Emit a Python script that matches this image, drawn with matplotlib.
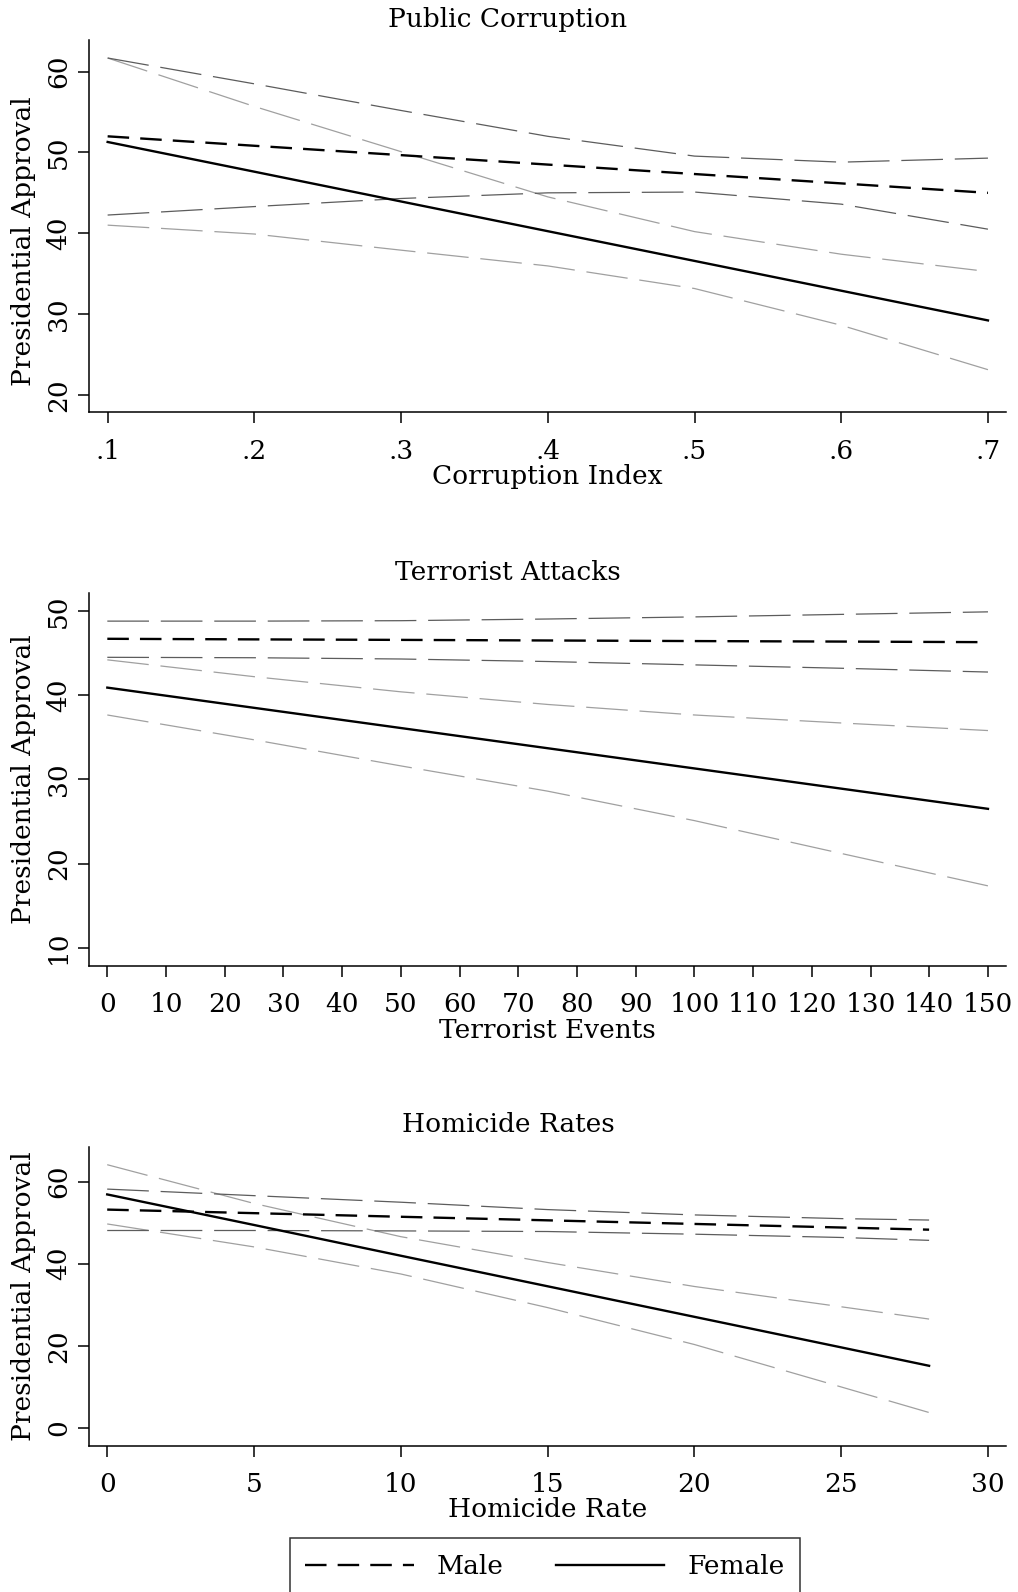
import matplotlib
matplotlib.use("Agg")
import matplotlib.pyplot as plt
from matplotlib.lines import Line2D

# ---- data ----
corr_x = [0.1, 0.2, 0.3, 0.4, 0.5, 0.6, 0.7]
corr_male = [52.0, 50.83, 49.67, 48.5, 47.33, 46.17, 45.0]
corr_male_hi = [61.7, 58.5, 55.2, 52.0, 49.55, 48.8, 49.3]
corr_male_lo = [42.25, 43.3, 44.3, 45.0, 45.1, 43.6, 40.5]
corr_female = [51.3, 47.62, 43.93, 40.25, 36.57, 32.88, 29.2]
corr_female_hi = [61.7, 55.7, 50.1, 44.5, 40.2, 37.4, 35.25]
corr_female_lo = [41.0, 39.9, 37.9, 35.95, 33.15, 28.6, 23.1]
corr_xticks = [0.1, 0.2, 0.3, 0.4, 0.5, 0.6, 0.7]
corr_xticklabels = [".1", ".2", ".3", ".4", ".5", ".6", ".7"]
corr_yticks = [20, 30, 40, 50, 60]

terr_x = [0, 25, 50, 75, 100, 125, 150]
terr_male = [46.7, 46.63, 46.57, 46.5, 46.43, 46.37, 46.3]
terr_male_hi = [48.8, 48.8, 48.85, 49.05, 49.3, 49.6, 49.9]
terr_male_lo = [44.5, 44.45, 44.3, 44.0, 43.6, 43.2, 42.75]
terr_female = [40.9, 38.5, 36.1, 33.7, 31.3, 28.9, 26.5]
terr_female_hi = [44.2, 42.2, 40.4, 38.9, 37.65, 36.7, 35.8]
terr_female_lo = [37.65, 34.7, 31.6, 28.6, 25.1, 21.2, 17.35]
terr_xticks = list(range(0, 151, 10))
terr_xticklabels = [str(t) for t in terr_xticks]
terr_yticks = [10, 20, 30, 40, 50]

hom_x = [0, 5, 10, 15, 20, 25, 28]
hom_male = [53.2, 52.33, 51.45, 50.58, 49.7, 48.83, 48.3]
hom_male_hi = [58.2, 56.6, 55.0, 53.2, 51.9, 51.0, 50.65]
hom_male_lo = [48.1, 48.1, 48.0, 47.85, 47.2, 46.4, 45.7]
hom_female = [56.9, 49.45, 41.95, 34.5, 27.05, 19.6, 15.1]
hom_female_hi = [64.15, 54.7, 46.6, 40.3, 34.45, 29.5, 26.5]
hom_female_lo = [49.7, 44.1, 37.5, 29.3, 20.3, 9.95, 3.7]
hom_xticks = [0, 5, 10, 15, 20, 25, 30]
hom_xticklabels = [str(t) for t in hom_xticks]
hom_yticks = [0, 20, 40, 60]

titles = ["Public Corruption", "Terrorist Attacks", "Homicide Rates"]
xlabels = ["Corruption Index", "Terrorist Events", "Homicide Rate"]
ylabel = "Presidential Approval"
legend_labels = ["Male", "Female"]

# ---- style ----
W, H = 1018, 1592
FS = 19
plt.rcParams["font.family"] = ["DejaVu Serif"]
plt.rcParams["lines.scale_dashes"] = False
BLACK = "#000000"
DARK = "#5c5c5c"
LIGHT = "#a0a0a0"
CI_DASH = (0, (30, 8.5))
MALE_DASH = (0, (15.5, 8))

fig = plt.figure(figsize=(W / 100, H / 100), dpi=100)


def box(left, top, right, bottom):
	return [left / W, 1 - bottom / H, (right - left) / W, (bottom - top) / H]


panels = [
	dict(rect=(89, 40, 1006, 412.3), x=corr_x, m=corr_male, mhi=corr_male_hi, mlo=corr_male_lo,
		f=corr_female, fhi=corr_female_hi, flo=corr_female_lo,
		xlim=(0.0873, 0.7123), ylim=(17.82, 63.93),
		xt=corr_xticks, xtl=corr_xticklabels, yt=corr_yticks, title_y=20, ylab_y=0.46),
	dict(rect=(89, 593, 1006, 966), x=terr_x, m=terr_male, mhi=terr_male_hi, mlo=terr_male_lo,
		f=terr_female, fhi=terr_female_hi, flo=terr_female_lo,
		xlim=(-3.12, 153.07), ylim=(7.83, 52.14),
		xt=terr_xticks, xtl=terr_xticklabels, yt=terr_yticks, title_y=572, ylab_y=0.5),
	dict(rect=(89, 1146.7, 1006, 1445.7), x=hom_x, m=hom_male, mhi=hom_male_hi, mlo=hom_male_lo,
		f=hom_female, fhi=hom_female_hi, flo=hom_female_lo,
		xlim=(-0.62, 30.62), ylim=(-4.39, 68.54),
		xt=hom_xticks, xtl=hom_xticklabels, yt=hom_yticks, title_y=1125, ylab_y=0.5),
]

for i, p in enumerate(panels):
	left, top, right, bottom = p["rect"]
	ax = fig.add_axes(box(left, top, right, bottom))
	ax.plot(p["x"], p["fhi"], color=LIGHT, lw=0.9, linestyle=CI_DASH)
	ax.plot(p["x"], p["flo"], color=LIGHT, lw=0.9, linestyle=CI_DASH)
	ax.plot(p["x"], p["mhi"], color=DARK, lw=0.9, linestyle=CI_DASH)
	ax.plot(p["x"], p["mlo"], color=DARK, lw=0.9, linestyle=CI_DASH)
	ax.plot(p["x"], p["m"], color=BLACK, lw=1.7, linestyle=MALE_DASH)
	ax.plot(p["x"], p["f"], color=BLACK, lw=1.7, linestyle="-")
	ax.set_xlim(*p["xlim"])
	ax.set_ylim(*p["ylim"])
	ax.set_xticks(p["xt"])
	ax.set_xticklabels(p["xtl"])
	ax.set_yticks(p["yt"])
	for s in ["top", "right"]:
		ax.spines[s].set_visible(False)
	for s in ["left", "bottom"]:
		ax.spines[s].set_linewidth(1.1)
	ax.tick_params(axis="both", direction="out", length=8, width=1.1, labelsize=FS)
	ax.tick_params(axis="x", pad=11)
	ax.tick_params(axis="y", pad=5, labelrotation=90)
	for lab in ax.get_yticklabels():
		lab.set_va("center")
	height = bottom - top
	width = right - left
	ax.set_xlabel(xlabels[i], fontsize=FS, va="center")
	ax.xaxis.set_label_coords(0.5, -64 / height)
	ax.set_ylabel(ylabel, fontsize=FS, va="center", ha="center")
	ax.yaxis.set_label_coords(-65 / width, p["ylab_y"])
	fig.text(508 / W, 1 - p["title_y"] / H, titles[i], fontsize=FS, ha="center", va="center")

handles = [
	Line2D([], [], color=BLACK, lw=1.7, linestyle=MALE_DASH),
	Line2D([], [], color=BLACK, lw=1.7, linestyle="-"),
]
leg = fig.legend(handles, legend_labels, loc="lower center", bbox_to_anchor=(545 / W, -16 / H),
	ncol=2, fontsize=FS, frameon=True, fancybox=False, handlelength=4.1, handletextpad=0.87,
	columnspacing=2.0, borderpad=0.6)
leg.get_frame().set_edgecolor(BLACK)
leg.get_frame().set_linewidth(1.1)

fig.savefig("out.png", dpi=100)
